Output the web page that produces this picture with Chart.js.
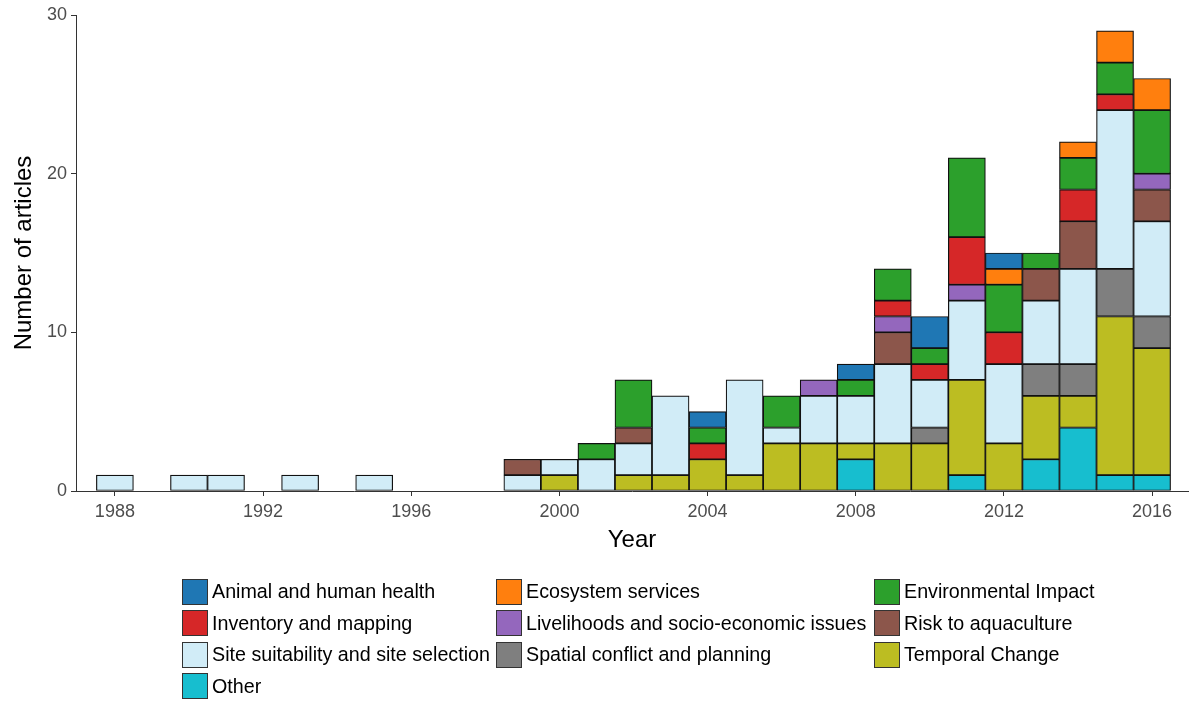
<!DOCTYPE html>
<html>
<head>
<meta charset="utf-8">
<script src="https://cdn.jsdelivr.net/npm/chart.js@4/dist/chart.umd.min.js"></script>
<style>
  html, body { margin: 0; padding: 0; background: #ffffff; }
  #wrap { position: relative; width: 1189px; height: 704px; overflow: hidden; }
  #chart { position: absolute; left: 0; top: 0; }
  .lg-item { position: absolute; display: flex; align-items: center; height: 27px;
             font-family: "Liberation Sans", Arial, sans-serif; font-size: 19.7px; color: #000; white-space: nowrap; }
  .lg-box { width: 24px; height: 24px; border: 1.5px solid #333; margin-right: 4px; flex: none; }
</style>
</head>
<body>
<div id="wrap">
  <canvas id="chart" width="1189" height="704"></canvas>
</div>
<script>
// Publication years, one bin per year
const years = [1988, 1989, 1990, 1991, 1992, 1993, 1994, 1995, 1996, 1997,
               1998, 1999, 2000, 2001, 2002, 2003, 2004, 2005, 2006, 2007,
               2008, 2009, 2010, 2011, 2012, 2013, 2014, 2015, 2016];

// Article counts per topic and year (same order as `years`)
const other       = [0,0,0,0,0, 0,0,0,0,0, 0,0,0,0,0, 0,0,0,0,0, 2,0,0,1,0, 2,4,1,1];
const temporal    = [0,0,0,0,0, 0,0,0,0,0, 0,0,1,0,1, 1,2,1,3,3, 1,3,3,6,3, 4,2,10,8];
const spatial     = [0,0,0,0,0, 0,0,0,0,0, 0,0,0,0,0, 0,0,0,0,0, 0,0,1,0,0, 2,2,3,2];
const site        = [1,0,1,1,0, 1,0,1,0,0, 0,1,1,2,2, 5,0,6,1,3, 3,5,3,5,5, 4,6,10,6];
const risk        = [0,0,0,0,0, 0,0,0,0,0, 0,1,0,0,1, 0,0,0,0,0, 0,2,0,0,0, 2,3,0,2];
const livelihoods = [0,0,0,0,0, 0,0,0,0,0, 0,0,0,0,0, 0,0,0,0,1, 0,1,0,1,0, 0,0,0,1];
const inventory   = [0,0,0,0,0, 0,0,0,0,0, 0,0,0,0,0, 0,1,0,0,0, 0,1,1,3,2, 0,2,1,0];
const environment = [0,0,0,0,0, 0,0,0,0,0, 0,0,0,1,3, 0,1,0,2,0, 1,2,1,5,3, 1,2,2,4];
const ecosystem   = [0,0,0,0,0, 0,0,0,0,0, 0,0,0,0,0, 0,0,0,0,0, 0,0,0,0,1, 0,1,2,2];
const animal      = [0,0,0,0,0, 0,0,0,0,0, 0,0,0,0,0, 0,1,0,0,0, 1,0,2,0,1, 0,0,0,0];

// Axis ticks
const xTickYears = [1988, 1992, 1996, 2000, 2004, 2008, 2012, 2016];
const yTicks = [0, 10, 20, 30];

// Topic names in legend order
const topicNames = ["Animal and human health", "Ecosystem services", "Environmental Impact",
                    "Inventory and mapping", "Livelihoods and socio-economic issues", "Risk to aquaculture",
                    "Site suitability and site selection", "Spatial conflict and planning", "Temporal Change",
                    "Other"];
const topicColors = ["#1f77b4", "#ff7f0e", "#2ca02c",
                     "#d62728", "#9467bd", "#8c564b",
                     "#d1ecf7", "#7f7f7f", "#bcbd22",
                     "#17becf"];
const topicCounts = [animal, ecosystem, environment,
                     inventory, livelihoods, risk,
                     site, spatial, temporal,
                     other];

// Stack from the bottom: reverse of the legend order
const datasets = topicNames.map((name, i) => ({
  label: name,
  data: years.map((y, j) => ({ x: y, y: topicCounts[i][j] })).filter(p => p.y > 0),
  backgroundColor: topicColors[i],
  borderColor: "#111111",
  borderWidth: 1.2,
  borderSkipped: false,
  barPercentage: 1.0,
  categoryPercentage: 1.0
})).reverse();

const PLOT_LEFT = 76, PLOT_TOP = 15, PAD_LEFT = 10;
const axisColor = "#333333";
const tickColor = "#4d4d4d";

new Chart(document.getElementById("chart"), {
  type: "bar",
  data: { datasets },
  options: {
    responsive: false,
    animation: false,
    events: [],
    layout: { padding: { left: PAD_LEFT, top: PLOT_TOP, right: 1, bottom: 704 - 555 } },
    plugins: { legend: { display: false }, tooltip: { enabled: false } },
    scales: {
      x: {
        type: "linear",
        stacked: true,
        offset: false,
        min: 1986.95,
        max: 2016.97,
        afterBuildTicks: (scale) => { scale.ticks = xTickYears.map(v => ({ value: v })); },
        afterFit: (scale) => { scale.height = 64; },
        ticks: {
          autoSkip: false,
          maxRotation: 0,
          padding: 5,
          color: tickColor,
          font: { family: "Liberation Sans", size: 18 },
          callback: (v) => String(v)
        },
        grid: { display: true, offset: false, drawOnChartArea: false, drawTicks: true, tickLength: 5,
                color: axisColor, lineWidth: 1 },
        border: { display: true, color: axisColor, width: 1 },
        title: { display: true, text: "Year", color: "#000", padding: 0,
                 font: { family: "Liberation Sans", size: 24 } }
      },
      y: {
        stacked: true,
        min: 0,
        max: 30,
        afterBuildTicks: (scale) => { scale.ticks = yTicks.map(v => ({ value: v })); },
        afterFit: (scale) => { scale.width = PLOT_LEFT - PAD_LEFT; },
        ticks: {
          padding: 4,
          color: tickColor,
          font: { family: "Liberation Sans", size: 18 }
        },
        grid: { display: true, offset: false, drawOnChartArea: false, drawTicks: true, tickLength: 5,
                color: axisColor, lineWidth: 1 },
        border: { display: true, color: axisColor, width: 1 },
        title: { display: true, text: "Number of articles", color: "#000", padding: 0,
                 font: { family: "Liberation Sans", size: 24 } }
      }
    }
  }
});

// Legend: three columns, filled row by row
const legendCols = [182, 496, 874];
const legendRows = [578, 609.5, 641, 672.5];
const wrap = document.getElementById("wrap");
topicNames.forEach((name, i) => {
  const item = document.createElement("div");
  item.className = "lg-item";
  item.style.left = legendCols[i % 3] + "px";
  item.style.top = legendRows[Math.floor(i / 3)] + "px";
  const box = document.createElement("span");
  box.className = "lg-box";
  box.style.background = topicColors[i];
  const txt = document.createElement("span");
  txt.textContent = name;
  item.appendChild(box);
  item.appendChild(txt);
  wrap.appendChild(item);
});
</script>
</body>
</html>
